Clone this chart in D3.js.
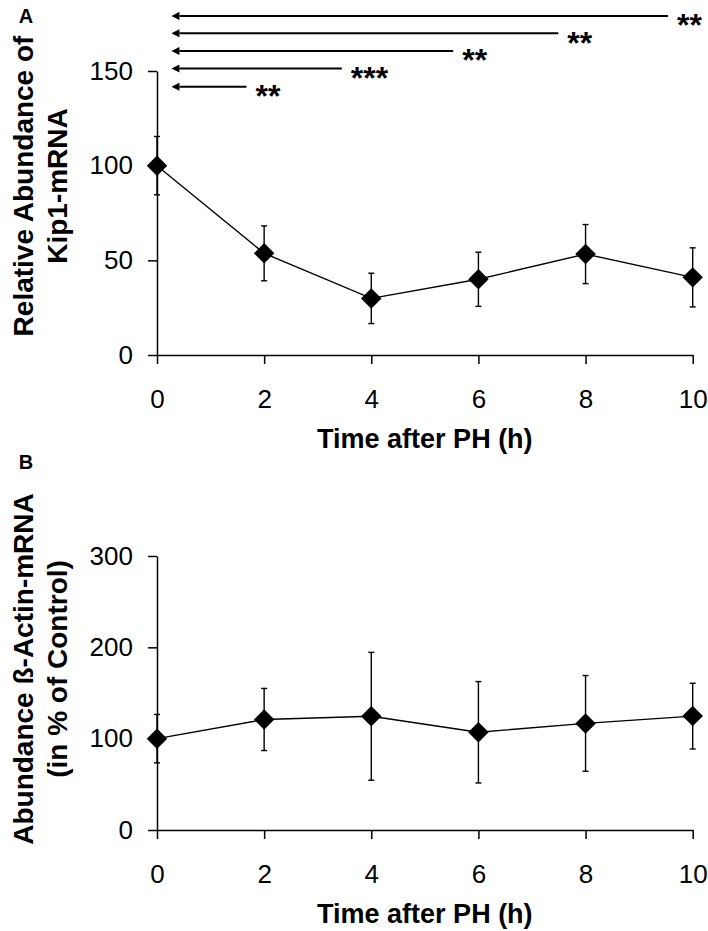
<!DOCTYPE html>
<html>
<head>
<meta charset="utf-8">
<script src="https://cdn.jsdelivr.net/npm/d3@7/dist/d3.min.js"></script>
<style>
  html, body { margin: 0; padding: 0; background: #fff; }
  svg { display: block; font-family: "Liberation Sans", Arial, Helvetica, sans-serif; }
</style>
</head>
<body>
<svg id="chart" width="708" height="931"></svg>
<script>
// ---------- data ----------
const timePoints = [0, 2, 4, 6, 8, 10];
const xTickValues = [0, 2, 4, 6, 8, 10];

// Panel A: Kip1-mRNA
const kip1Mean = [100, 53.7, 29.9, 40.0, 53.3, 41.0];
const kip1Err  = [15.4, 14.5, 13.3, 14.3, 15.6, 15.6];
const yTicksA = [0, 50, 100, 150];

// Panel B: ß-Actin-mRNA
const actinMean = [100, 121, 124.5, 107, 116.7, 124.7];
const actinErr  = [26.5, 34, 70, 55.5, 52.4, 36];
const yTicksB = [0, 100, 200, 300];

// Significance arrows (panel A), in data units
const sigStart = [0.27, 0.27, 0.27, 0.27, 0.27];
const sigEnd   = [9.54, 7.49, 5.53, 3.45, 1.67];
const sigLevel = [179.1, 169.9, 160.6, 151.3, 141.7];
const sigLabel = ["**", "**", "**", "***", "**"];

const titleA1 = "Relative Abundance of";
const titleA2 = "Kip1-mRNA";
const titleB1 = "Abundance ß-Actin-mRNA";
const titleB2 = "(in % of Control)";
const xTitle = "Time after PH (h)";

// ---------- drawing ----------
const svg = d3.select("#chart");

svg.append("defs").append("marker")
  .attr("id", "arrowhead")
  .attr("viewBox", "0 0 10 10")
  .attr("refX", 0).attr("refY", 5)
  .attr("markerUnits", "userSpaceOnUse")
  .attr("markerWidth", 9).attr("markerHeight", 8)
  .attr("orient", "auto-start-reverse")
  .append("path").attr("d", "M0,0 L10,5 L0,10 Z").attr("fill", "#000");

const x = d3.scaleLinear().domain([0, 10]).range([157, 692.7]);

function panel(cfg) {
  const g = svg.append("g");
  const y = cfg.y;

  const yAxis = d3.axisLeft(y).tickValues(cfg.yTicks).tickSize(9).tickSizeOuter(0).tickPadding(15);
  const xAxis = d3.axisBottom(x).tickValues(xTickValues).tickSize(9).tickSizeOuter(0).tickPadding(26)
                  .tickFormat(d3.format("d"));

  const ga = g.append("g").attr("transform", `translate(${x(0)},0)`).call(yAxis);
  const gb = g.append("g").attr("transform", `translate(0,${y(0)})`).call(xAxis);
  [ga, gb].forEach(a => {
    a.attr("font-size", null).attr("font-family", null);
    a.selectAll("path.domain").attr("stroke", "#000").attr("stroke-width", 1.5);
    a.selectAll(".tick line").attr("stroke", "#000").attr("stroke-width", 1.5);
    a.selectAll(".tick text").attr("fill", "#000").style("font-size", "26px")
      .style("font-family", '"Liberation Sans", Arial, sans-serif');
  });

  const pts = timePoints.map((t, i) => ({ t, m: cfg.mean[i], e: cfg.err[i] }));

  // error bars
  const eb = g.append("g").attr("stroke", "#000").attr("stroke-width", 1.4).attr("fill", "none");
  pts.forEach(p => {
    eb.append("line").attr("x1", x(p.t)).attr("x2", x(p.t)).attr("y1", y(p.m - p.e)).attr("y2", y(p.m + p.e));
    eb.append("line").attr("x1", x(p.t) - 3).attr("x2", x(p.t) + 3).attr("y1", y(p.m + p.e)).attr("y2", y(p.m + p.e));
    eb.append("line").attr("x1", x(p.t) - 3).attr("x2", x(p.t) + 3).attr("y1", y(p.m - p.e)).attr("y2", y(p.m - p.e));
  });

  // line
  g.append("path").datum(pts)
    .attr("fill", "none").attr("stroke", "#000").attr("stroke-width", 1.4)
    .attr("d", d3.line().x(p => x(p.t)).y(p => y(p.m)));

  // diamonds
  const sym = d3.symbol().type(d3.symbolSquare).size(210);
  g.selectAll("path.pt").data(pts).join("path").attr("class", "pt")
    .attr("d", sym)
    .attr("transform", p => `translate(${x(p.t)},${y(p.m)}) rotate(45)`)
    .attr("fill", "#000");

  // x title
  g.append("text").attr("x", (x(0) + x(10)) / 2).attr("y", y(0) + 93)
    .attr("text-anchor", "middle").style("font-size", "27px").style("font-weight", "bold")
    .text(xTitle);

  // y title (two lines)
  const yc = cfg.titleCenter;
  g.append("text").attr("transform", `translate(33,${yc}) rotate(-90)`)
    .attr("text-anchor", "middle").style("font-size", "28px").style("font-weight", "bold")
    .text(cfg.t1);
  g.append("text").attr("transform", `translate(67,${yc}) rotate(-90)`)
    .attr("text-anchor", "middle").style("font-size", "28px").style("font-weight", "bold")
    .text(cfg.t2);

  // panel letter
  g.append("text").attr("x", 26).attr("y", cfg.letterY).attr("text-anchor", "middle")
    .style("font-size", "20px").style("font-weight", "bold").text(cfg.letter);
  return g;
}

const yA = d3.scaleLinear().domain([0, 150]).range([355, 71]);
const yB = d3.scaleLinear().domain([0, 300]).range([830, 556]);

const gA = panel({ y: yA, yTicks: yTicksA, mean: kip1Mean, err: kip1Err,
  t1: titleA1, t2: titleA2, titleCenter: 186, letter: "A", letterY: 23 });
panel({ y: yB, yTicks: yTicksB, mean: actinMean, err: actinErr,
  t1: titleB1, t2: titleB2, titleCenter: 669, letter: "B", letterY: 469 });

// significance arrows
const sg = gA.append("g");
sigEnd.forEach((e, i) => {
  const yy = yA(sigLevel[i]);
  sg.append("line")
    .attr("x1", x(e)).attr("x2", x(sigStart[i]) + 8)
    .attr("y1", yy).attr("y2", yy)
    .attr("stroke", "#000").attr("stroke-width", 2)
    .attr("marker-end", "url(#arrowhead)");
  sg.append("text").attr("x", x(e) + 9).attr("y", yy + 20.5)
    .style("font-size", "32px").style("font-weight", "bold").text(sigLabel[i]);
});
</script>
</body>
</html>
